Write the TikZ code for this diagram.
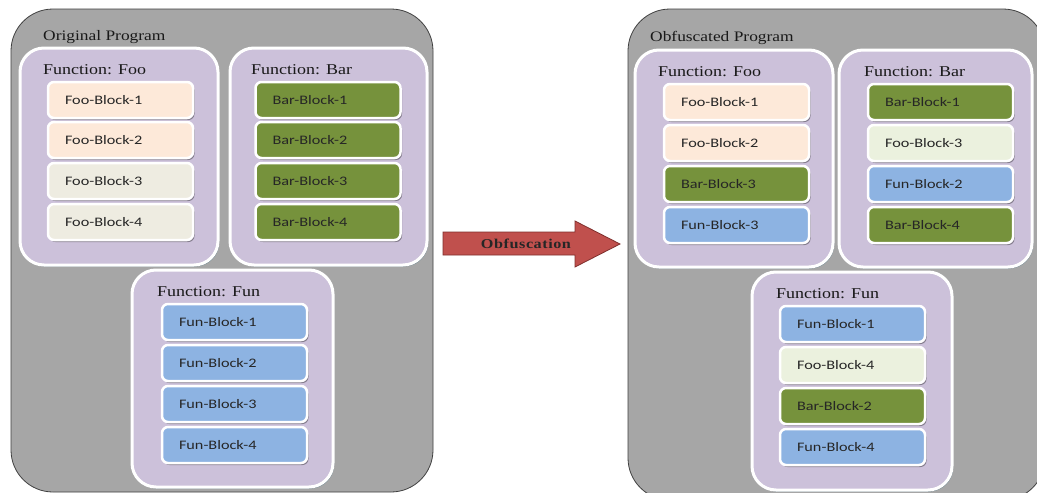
\documentclass[tikz,border=0pt]{standalone}
\usepackage{fontspec}
\setmainfont[FakeStretch=1.2]{Liberation Serif}
\newfontfamily\blockfont[FakeStretch=1.25]{Carlito}
\newfontfamily\obffont[FakeStretch=1.2,LetterSpace=4]{Liberation Serif}
\usetikzlibrary{shadows}
\definecolor{progGray}{HTML}{A6A6A6}
\definecolor{progEdge}{HTML}{404040}
\definecolor{funPurple}{HTML}{CCC1DA}
\definecolor{cPeach}{HTML}{FDE9D9}
\definecolor{cBeige}{HTML}{EEECE1}
\definecolor{cGreen}{HTML}{76923C}
\definecolor{cBlue}{HTML}{8DB3E2}
\definecolor{cLightGreen}{HTML}{EBF1DE}
\definecolor{arrowRed}{HTML}{C0504D}
\definecolor{arrowEdge}{HTML}{7F2F2D}
\definecolor{fShadow}{HTML}{5F7F8A}
\tikzset{
  progbox/.style={draw=progEdge, line width=0.8pt, fill=progGray, rounded corners=42pt, inner sep=0pt},
  funbox/.style={draw=white, line width=3pt, fill=funPurple, rounded corners=24pt, inner sep=0pt,
    drop shadow={shadow xshift=1.2pt, shadow yshift=-1.5pt, fill=fShadow, opacity=0.8}},
  blockbox/.style={draw=white, line width=2.5pt, rounded corners=6pt, minimum height=36pt,
    inner xsep=17pt, inner ysep=0pt, text width=111pt, align=left, text=black!85,
    font=\blockfont\fontsize{13}{15}\selectfont,
    drop shadow={shadow xshift=1.5pt, shadow yshift=-2pt, fill=black, opacity=0.35}},
  peach/.style={blockbox, fill=cPeach},
  beige/.style={blockbox, fill=cBeige},
  green/.style={blockbox, fill=cGreen},
  blue/.style={blockbox, fill=cBlue},
  lgreen/.style={blockbox, fill=cLightGreen},
  progtitle/.style={anchor=west, inner sep=0pt, text=black!90, font=\fontsize{14.5}{17}\selectfont},
  funtitle/.style={anchor=west, inner sep=0pt, text=black!90, font=\fontsize{15}{18}\selectfont},
  arrowshape/.style={draw=arrowEdge, line width=0.8pt, fill=arrowRed},
}
\begin{document}
\begin{tikzpicture}[x=1pt,y=-1pt]
\clip (0,0) rectangle (1037,493);
\fill[white] (0,0) rectangle (1037,493);

% ---------- Original program ----------
\node[progbox, minimum width=422pt, minimum height=483pt] (orig) at (222,250.5) {};
\node[progtitle] (origT) at (43,37) {Original Program};

\node[funbox, minimum width=198pt, minimum height=217pt] (ofoo) at (119,156.5) {};
\node[funtitle] (ofooT) at (43,70) {Function: Foo};
\node[peach] (ofoo1) at (120.5,100) {Foo-Block-1};
\node[peach] (ofoo2) at (120.5,140) {Foo-Block-2};
\node[beige] (ofoo3) at (120.5,181) {Foo-Block-3};
\node[beige] (ofoo4) at (120.5,222) {Foo-Block-4};

\node[funbox, minimum width=197pt, minimum height=217pt] (obar) at (328.5,156.5) {};
\node[funtitle] (obarT) at (251,70) {Function: Bar};
\node[green] (obar1) at (328,100) {Bar-Block-1};
\node[green] (obar2) at (328,140) {Bar-Block-2};
\node[green] (obar3) at (328,181) {Bar-Block-3};
\node[green] (obar4) at (328,222) {Bar-Block-4};

\node[funbox, minimum width=201pt, minimum height=217pt] (ofun) at (232.5,378.5) {};
\node[funtitle] (ofunT) at (157,292) {Function: Fun};
\node[blue] (ofun1) at (234.5,322) {Fun-Block-1};
\node[blue] (ofun2) at (234.5,363) {Fun-Block-2};
\node[blue] (ofun3) at (234.5,404) {Fun-Block-3};
\node[blue] (ofun4) at (234.5,445) {Fun-Block-4};

% ---------- Arrow ----------
\coordinate (a1) at (443,232);
\coordinate (a2) at (575,232);
\coordinate (a3) at (575,221);
\coordinate (a4) at (620,244);
\coordinate (a5) at (575,267);
\coordinate (a6) at (575,255);
\coordinate (a7) at (443,255);
\draw[arrowshape] (a1) -- (a2) -- (a3) -- (a4) -- (a5) -- (a6) -- (a7) -- cycle;
\node[inner sep=0pt, text=black!85, font=\obffont\bfseries\fontsize{13.5}{16}\selectfont] (obf) at (526,244) {Obfuscation};

% ---------- Obfuscated program ----------
\node[progbox, minimum width=417pt, minimum height=491pt] (obfs) at (836.5,254.5) {};
\node[progtitle] (obfsT) at (650,38) {Obfuscated Program};

\node[funbox, minimum width=198pt, minimum height=217pt] (nfoo) at (734,158.5) {};
\node[funtitle] (nfooT) at (658,72) {Function: Foo};
\node[peach] (nfoo1) at (736.5,102) {Foo-Block-1};
\node[peach] (nfoo2) at (736.5,143) {Foo-Block-2};
\node[green] (nfoo3) at (736.5,184) {Bar-Block-3};
\node[blue]  (nfoo4) at (736.5,225) {Fun-Block-3};

\node[funbox, minimum width=193pt, minimum height=217pt] (nbar) at (935.5,158.5) {};
\node[funtitle] (nbarT) at (864,72) {Function: Bar};
\node[green]  (nbar1) at (940.5,102) {Bar-Block-1};
\node[lgreen] (nbar2) at (940.5,143) {Foo-Block-3};
\node[blue]   (nbar3) at (940.5,184) {Fun-Block-2};
\node[green]  (nbar4) at (940.5,225) {Bar-Block-4};

\node[funbox, minimum width=200pt, minimum height=218pt] (nfun) at (852,381) {};
\node[funtitle] (nfunT) at (776,294) {Function: Fun};
\node[blue]   (nfun1) at (852.5,324) {Fun-Block-1};
\node[lgreen] (nfun2) at (852.5,365) {Foo-Block-4};
\node[green]  (nfun3) at (852.5,406) {Bar-Block-2};
\node[blue]   (nfun4) at (852.5,447) {Fun-Block-4};
\end{tikzpicture}
\end{document}
